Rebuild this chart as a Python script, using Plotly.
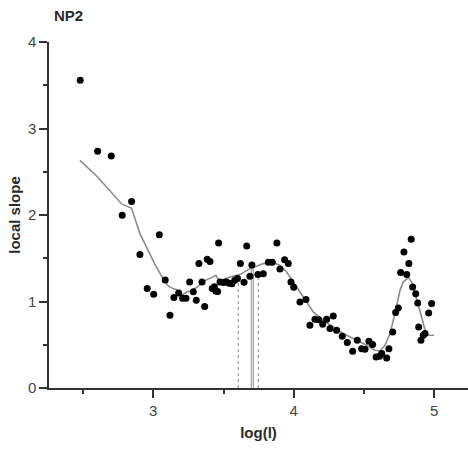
import plotly.graph_objects as go

# measured local slope versus log(l)
log_l = [2.480, 2.604, 2.701, 2.779, 2.846, 2.905, 2.957, 3.003, 3.043, 3.085,
         3.119, 3.147, 3.181, 3.209, 3.233, 3.259, 3.285, 3.306, 3.325, 3.347,
         3.366, 3.384, 3.404, 3.420, 3.435, 3.445, 3.458, 3.465, 3.475, 3.500,
         3.520, 3.540, 3.560, 3.580, 3.600, 3.620, 3.646, 3.665, 3.688, 3.702,
         3.745, 3.783, 3.819, 3.847, 3.880, 3.902, 3.935, 3.961, 3.980, 4.000,
         4.044, 4.087, 4.115, 4.151, 4.178, 4.206, 4.234, 4.258, 4.281, 4.305,
         4.345, 4.381, 4.419, 4.452, 4.483, 4.507, 4.535, 4.561, 4.586, 4.610,
         4.626, 4.661, 4.677, 4.704, 4.725, 4.744, 4.761, 4.784, 4.804, 4.819,
         4.836, 4.846, 4.868, 4.882, 4.889, 4.905, 4.922, 4.934, 4.960, 4.981,
         5.000]
slope = [3.557, 2.737, 2.682, 1.997, 2.155, 1.542, 1.149, 1.083, 1.773, 1.249,
         0.840, 1.045, 1.098, 1.037, 1.037, 1.225, 1.114, 1.014, 1.438, 1.225,
         0.941, 1.488, 1.461, 1.150, 1.170, 1.120, 1.115, 1.676, 1.225, 1.220,
         1.225, 1.210, 1.205, 1.245, 1.265, 1.438, 1.222, 1.642, 1.291, 1.422,
         1.311, 1.322, 1.453, 1.453, 1.676, 1.376, 1.484, 1.438, 1.225, 1.165,
         0.994, 1.022, 0.725, 0.794, 0.788, 0.736, 0.794, 0.687, 0.832, 0.667,
         0.598, 0.525, 0.424, 0.551, 0.455, 0.447, 0.540, 0.502, 0.358, 0.366,
         0.398, 0.347, 0.455, 0.647, 0.872, 0.925, 1.334, 1.572, 1.311, 1.438,
         1.719, 1.168, 1.091, 0.983, 0.705, 0.551, 0.609, 0.629, 0.867, 0.976,
         -0.01]

# smoothed trend
smooth_x = [2.478, 2.604, 2.775, 2.846, 2.905, 2.977, 3.012, 3.071, 3.107, 3.142,
            3.178, 3.202, 3.238, 3.273, 3.309, 3.344, 3.380, 3.416, 3.446, 3.463,
            3.487, 3.546, 3.617, 3.688, 3.783, 3.854, 3.902, 3.949, 3.996, 4.068,
            4.139, 4.210, 4.281, 4.352, 4.448, 4.519, 4.578, 4.613, 4.649, 4.685,
            4.720, 4.756, 4.779, 4.815, 4.839, 4.875, 4.910, 4.934, 4.957, 4.998]
smooth_y = [2.632, 2.440, 2.128, 2.078, 1.785, 1.550, 1.430, 1.260, 1.180, 1.149,
            1.129, 1.072, 1.110, 1.121, 1.168, 1.207, 1.253, 1.276, 1.303, 1.253,
            1.245, 1.283, 1.311, 1.380, 1.438, 1.450, 1.418, 1.341, 1.225, 1.052,
            0.879, 0.783, 0.705, 0.629, 0.551, 0.494, 0.436, 0.428, 0.494, 0.629,
            0.860, 1.130, 1.225, 1.276, 1.225, 1.033, 0.821, 0.667, 0.609, 0.609]

# vertical markers: centre value and its bounds
center_x = [3.698, 3.712]
center_top = 1.42
bound_x = [3.605, 3.747]
bound_top = [1.225, 1.30]

fig = go.Figure()

for bx, bt in zip(bound_x, bound_top):
    fig.add_trace(go.Scatter(x=[bx, bx], y=[0, bt], mode="lines",
                             line=dict(color="#8a8a8a", width=1, dash="dot"),
                             hoverinfo="skip"))
for cx in center_x:
    fig.add_trace(go.Scatter(x=[cx, cx], y=[0, center_top], mode="lines",
                             line=dict(color="#8a8a8a", width=1),
                             hoverinfo="skip"))

fig.add_trace(go.Scatter(x=smooth_x, y=smooth_y, mode="lines",
                         line=dict(color="#8c8c8c", width=1.6)))
fig.add_trace(go.Scatter(x=log_l, y=slope, mode="markers", cliponaxis=False,
                         marker=dict(color="black", size=7)))

axis_font = dict(family="Liberation Sans, Arial, sans-serif", size=15, color="#444444")
title_font = dict(family="Liberation Sans, Arial, sans-serif", size=15, color="#2a2a2a")

fig.update_layout(
    width=468, height=450,
    margin=dict(l=49, r=0, t=42, b=62),
    paper_bgcolor="white", plot_bgcolor="white",
    showlegend=False,
    font=axis_font,
    xaxis=dict(range=[2.258, 5.240], tick0=0, dtick=1, layer="below traces",
               showline=True, linecolor="#333333", linewidth=1.5,
               ticks="outside", ticklen=8, tickwidth=1.5, tickcolor="#333333",
               minor=dict(dtick=0.5, tick0=0, ticks="outside", ticklen=4,
                          tickwidth=1.5, tickcolor="#333333"),
               showgrid=False, zeroline=False,
               title=dict(text="<b>log(l)</b>", standoff=10, font=title_font)),
    yaxis=dict(range=[0, 4], tick0=0, dtick=1, layer="below traces",
               showline=True, linecolor="#333333", linewidth=1.5,
               ticks="outside", ticklen=8, tickwidth=1.5, tickcolor="#333333",
               minor=dict(dtick=0.5, tick0=0, ticks="outside", ticklen=4,
                          tickwidth=1.5, tickcolor="#333333"),
               showgrid=False, zeroline=False,
               title=dict(text="<b>local slope</b>", standoff=4, font=title_font)),
    annotations=[dict(text="<b>NP2</b>", xref="paper", yref="paper",
                      x=0.007, y=1.078, xanchor="left", yanchor="middle",
                      showarrow=False, font=title_font)],
)

fig.write_html("out.html")
